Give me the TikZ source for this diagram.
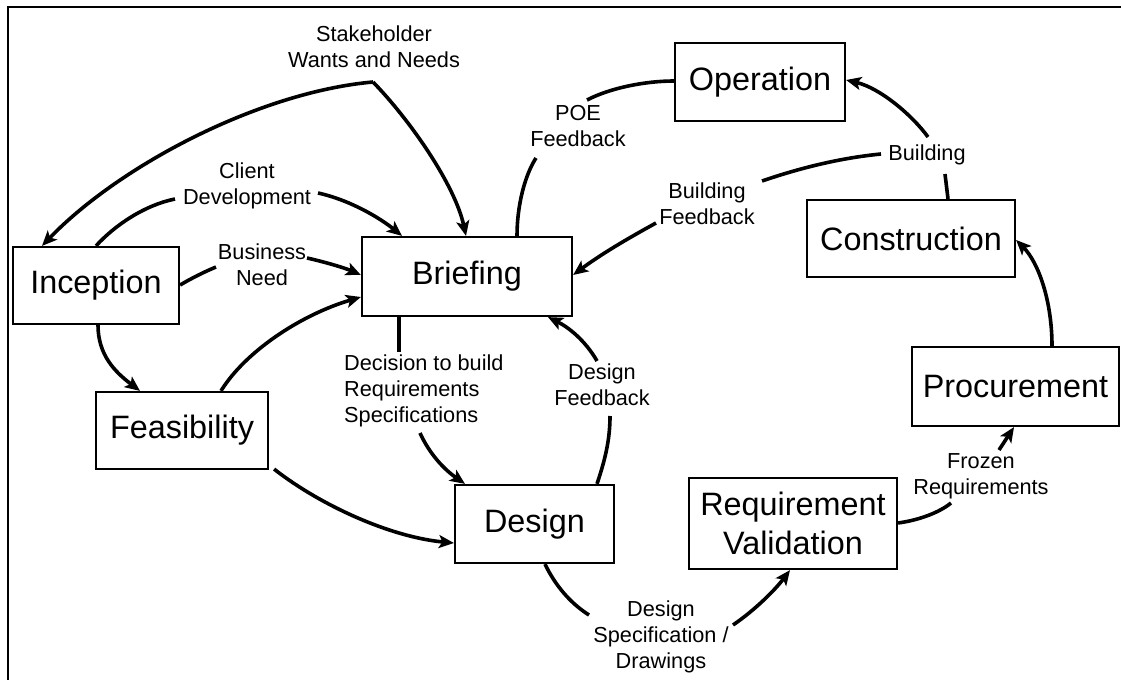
\documentclass[tikz,border=0pt]{standalone}
\usepackage{fontspec}
\setmainfont{Liberation Sans}
\usetikzlibrary{arrows.meta}
\tikzset{
  stage/.style={draw, line width=2.2bp, inner sep=0pt, align=center,
    font=\fontsize{32.5}{39}\selectfont},
  lbl/.style={inner sep=0pt, align=center, font=\fontsize{21.8}{26}\selectfont},
  conn/.style={line width=3.6bp},
  arr/.style={conn, -{Stealth[length=15bp,width=13bp,inset=3.5bp]}},
  frame/.style={line width=2.4bp}
}
\begin{document}
\begin{tikzpicture}[x=1bp,y=-1bp]
\useasboundingbox (0,0) rectangle (1121,680);
\fill[white] (0,0) rectangle (1121,680);
\draw[frame] (8,680) -- (8,7) -- (1121,7);

% stages
\node[stage, minimum width=166bp, minimum height=77bp] (inc) at (96,285.5) {Inception};
\node[stage, minimum width=210bp, minimum height=79bp] (bri) at (467,276.5) {Briefing};
\node[stage, minimum width=170bp, minimum height=78bp] (ope) at (760,82) {Operation};
\node[stage, minimum width=208bp, minimum height=77bp] (con) at (911,238.5) {Construction};
\node[stage, minimum width=207bp, minimum height=79bp] (pro) at (1015.5,386.5) {Procurement};
\node[stage, minimum width=172bp, minimum height=77bp] (fea) at (182,430.5) {Feasibility};
\node[stage, minimum width=159bp, minimum height=78bp] (des) at (534.5,524) {Design};
\node[stage, minimum width=208bp, minimum height=91bp] (rv) at (793,523.5) {Requirement\\Validation};

% labels
\node[lbl] (stake) at (374,47) {Stakeholder\\Wants and Needs};
\node[lbl] (client) at (247,186) {Client\\Development};
\node[lbl] (business) at (262,265) {Business\\Need};
\node[lbl] (poe) at (578,126) {POE\\Feedback};
\node[lbl] (building) at (927,155) {Building};
\node[lbl] (bfeed) at (707,204) {Building\\Feedback};
\node[lbl, align=left, anchor=west] (decision) at (344,391) {Decision to build\\Requirements\\Specifications};
\node[lbl] (dfeed) at (602,385) {Design\\Feedback};
\node[lbl] (dspec) at (661,637) {Design\\Specification /\\Drawings};
\node[lbl] (frozen) at (981,476) {Frozen\\Requirements};

% junction / free ends
\coordinate (sk) at (373,82);
\coordinate (cdA) at (175,199);
\coordinate (cdB) at (318,193);
\coordinate (bnA) at (216,267);
\coordinate (bnB) at (307,258);
\coordinate (poeA) at (536,158);
\coordinate (poeB) at (587,100);
\coordinate (buA) at (945,174);
\coordinate (buB) at (928,137);
\coordinate (buC) at (881,154);
\coordinate (bfA) at (762,181);
\coordinate (bfB) at (656,223);
\coordinate (dcA) at (399,352);
\coordinate (dcB) at (420,433);
\coordinate (dfA) at (610,416);
\coordinate (dfB) at (597,361);
\coordinate (dsA) at (589,615);
\coordinate (dsB) at (733,625);
\coordinate (frA) at (951,503);
\coordinate (frB) at (999,450);

% stakeholder
\draw[arr] (sk) .. controls (260,92) and (120,165) .. (inc.north west -| 42,0);
\draw[arr] (sk) .. controls (410,120) and (455,185) .. (bri.north -| 466,0);

% client development
\draw[conn] (inc.north) .. controls (115,225) and (145,205) .. (cdA);
\draw[arr] (cdB) .. controls (350,200) and (380,218) .. (bri.north west -| 402,0);

% business need
\draw[conn] (inc.east |- 0,285) .. controls (192,278) and (204,272) .. (bnA);
\draw[arr] (bnB) .. controls (325,262) and (345,268) .. (bri.west |- 0,275);

% inception -> feasibility
\draw[arr] (inc.south -| 98,0) .. controls (98,355) and (115,372) .. (fea.north -| 140,0);

% feasibility -> briefing
\draw[arr] (fea.north -| 221,0) .. controls (245,352) and (300,315) .. (bri.west |- 0,297);

% feasibility -> design
\draw[arr] (fea.south east) ++(5,-1) .. controls (320,505) and (390,537) .. (des.west |- 0,543);

% decision
\draw[conn] (bri.south -| 399,0) .. controls (399,330) and (399,340) .. (dcA);
\draw[arr] (dcB) .. controls (430,455) and (445,470) .. (des.north -| 465,0);

% design feedback
\draw[conn] (des.north -| 597,0) .. controls (605,460) and (610,440) .. (dfA);
\draw[arr] (dfB) .. controls (585,340) and (568,327) .. (bri.south -| 548,0);

% POE feedback
\draw[conn] (bri.north -| 517,0) .. controls (517,205) and (525,175) .. (poeA);
\draw[conn] (poeB) .. controls (610,88) and (645,81) .. (ope.west |- 0,81);

% construction -> operation (building)
\draw[conn] (con.north -| 948,0) -- (buA);
\draw[arr] (buB) .. controls (912,115) and (880,88) .. (ope.east |- 0,80);

% building feedback
\draw[conn] (buC) .. controls (840,158) and (800,168) .. (bfA);
\draw[arr] (bfB) .. controls (625,240) and (600,255) .. (bri.east |- 0,275);

% procurement -> construction
\draw[arr] (pro.north -| 1052,0) .. controls (1052,300) and (1038,262) .. (con.east |- 0,240);

% design spec
\draw[conn] (des.south -| 545,0) .. controls (555,585) and (570,603) .. (dsA);
\draw[arr] (dsB) .. controls (755,610) and (775,590) .. (rv.south -| 790,0);

% frozen requirements
\draw[conn] (rv.east |- 0,523) .. controls (920,520) and (940,512) .. (frA);
\draw[arr] (frB) -- (pro.south -| 1014,0);
\end{tikzpicture}
\end{document}
